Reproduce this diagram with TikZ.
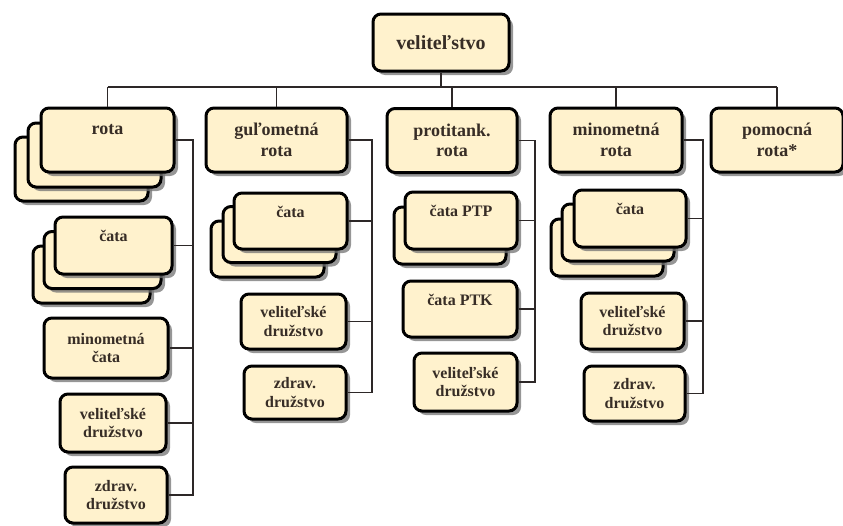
\documentclass[tikz,border=0pt]{standalone}
\usepackage{fontspec}
\setmainfont{Liberation Serif}
\newfontfamily\cardfont{Liberation Serif}
\usetikzlibrary{shadows}

\definecolor{cardfill}{RGB}{255,242,205}
\definecolor{cardtext}{RGB}{55,45,38}
\definecolor{linkgray}{RGB}{45,40,40}

\tikzset{
  card/.style={draw=black, line width=3pt, rounded corners=8pt, fill=cardfill,
    drop shadow={shadow xshift=4pt, shadow yshift=-4pt, fill=black!55, opacity=.75},
    text=cardtext, align=center, inner sep=0pt},
  topcard/.style={card, font=\cardfont\bfseries\fontsize{20}{23}\selectfont},
  unitcard/.style={card, font=\cardfont\bfseries\fontsize{18}{20.5}\selectfont},
  subcard/.style={card, font=\cardfont\bfseries\fontsize{16}{18.5}\selectfont},
  link/.style={draw=linkgray, line width=1.4pt}
}

\begin{document}
\begin{tikzpicture}[x=1pt, y=-1pt]
    \useasboundingbox (0,0) rectangle (843,525);

    % Headquarters
    \node[topcard, minimum width=136, minimum height=57] (vel) at (441,42.5) {veliteľstvo};

    % Companies
    \node[unitcard, minimum width=133, minimum height=64] (rotac) at (81.5,169) {};
    \node[unitcard, minimum width=133, minimum height=64] (rotab) at (94.5,155) {};
    \node[unitcard, minimum width=133, minimum height=64] (rota) at (107.5,140) {rota\\~};
    \node[unitcard, minimum width=141, minimum height=64] (gul) at (276.5,140) {guľometná\\rota};
    \node[unitcard, minimum width=130, minimum height=64] (prot) at (452,140.5) {protitank.\\rota};
    \node[unitcard, minimum width=132, minimum height=64] (minr) at (616,140) {minometná\\rota};
    \node[unitcard, minimum width=132, minimum height=64] (pom) at (777,140) {pomocná\\rota*};

    % Column 1
    \node[subcard, minimum width=117, minimum height=57] (cata1c) at (91.5,274.5) {};
    \node[subcard, minimum width=117, minimum height=57] (cata1b) at (102.5,260) {};
    \node[subcard, minimum width=117, minimum height=57] (cata1) at (113.5,245.5) {čata\\~};
    \node[subcard, minimum width=124, minimum height=60] (minc) at (106,348) {minometná\\čata};
    \node[subcard, minimum width=106, minimum height=58] (vel1) at (113,423) {veliteľské\\družstvo};
    \node[subcard, minimum width=102, minimum height=56] (zdr1) at (116,495) {zdrav.\\družstvo};

    % Column 2
    \node[subcard, minimum width=113, minimum height=56] (cata2c) at (267.5,249) {};
    \node[subcard, minimum width=113, minimum height=56] (cata2b) at (279.5,234.5) {};
    \node[subcard, minimum width=113, minimum height=56] (cata2) at (290.5,221) {čata\\~};
    \node[subcard, minimum width=105, minimum height=55] (vel2) at (293.5,321.5) {veliteľské\\družstvo};
    \node[subcard, minimum width=102, minimum height=53] (zdr2) at (295,392.5) {zdrav.\\družstvo};

    % Column 3
    \node[subcard, minimum width=112, minimum height=57] (ptpb) at (450,235.5) {};
    \node[subcard, minimum width=112, minimum height=57] (ptp) at (461,220.5) {čata PTP\\~};
    \node[subcard, minimum width=114, minimum height=56] (ptk) at (460,309) {čata PTK\\~};
    \node[subcard, minimum width=103, minimum height=58] (vel3) at (465.5,382) {veliteľské\\družstvo};

    % Column 4
    \node[subcard, minimum width=112, minimum height=57] (cata4c) at (607,247.5) {};
    \node[subcard, minimum width=112, minimum height=57] (cata4b) at (618,232.5) {};
    \node[subcard, minimum width=112, minimum height=57] (cata4) at (630,218.5) {čata\\~};
    \node[subcard, minimum width=103, minimum height=56] (vel4) at (632.5,321) {veliteľské\\družstvo};
    \node[subcard, minimum width=101, minimum height=55] (zdr4) at (634.5,393.5) {zdrav.\\družstvo};

    % Bus under headquarters
    \coordinate (bus) at (0,87);
    \draw[link] (vel.south) -- (vel.south |- bus);
    \draw[link] (rota.north |- bus) -- (pom.north |- bus);
    \foreach \n in {rota,gul,prot,minr,pom}
        \draw[link] (\n.north) -- (\n.north |- bus);

    % Column lines
    \coordinate (col1) at (193,0);
    \coordinate (col2) at (372,0);
    \coordinate (col3) at (535,0);
    \coordinate (col4) at (703,0);
    \draw[link] (rota.east) -- (rota.east -| col1) -- (zdr1.east -| col1) -- (zdr1.east);
    \foreach \n in {cata1,minc,vel1}
        \draw[link] (\n.east) -- (\n.east -| col1);
    \draw[link] (gul.east) -- (gul.east -| col2) -- (zdr2.east -| col2) -- (zdr2.east);
    \foreach \n in {cata2,vel2}
        \draw[link] (\n.east) -- (\n.east -| col2);
    \draw[link] (prot.east) -- (prot.east -| col3) -- (vel3.east -| col3) -- (vel3.east);
    \foreach \n in {ptp,ptk}
        \draw[link] (\n.east) -- (\n.east -| col3);
    \draw[link] (minr.east) -- (minr.east -| col4) -- (zdr4.east -| col4) -- (zdr4.east);
    \foreach \n in {cata4,vel4}
        \draw[link] (\n.east) -- (\n.east -| col4);
\end{tikzpicture}
\end{document}
